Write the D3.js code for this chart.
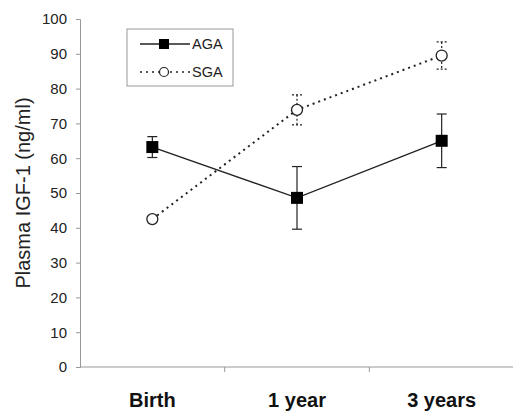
<!DOCTYPE html>
<html>
<head>
<meta charset="utf-8">
<script src="https://cdn.jsdelivr.net/npm/d3@7"></script>
<style>
  body { margin: 0; background: #fff; }
  text { font-family: "Liberation Sans", Arial, sans-serif; }
</style>
</head>
<body>
<div class="container"></div>
<script>
const width = 513;
const height = 411;

const categories = ["Birth", "1 year", "3 years"];
const agaMean = [63.2, 48.6, 65.0];
const agaErr = [3.0, 9.0, 7.7];
const sgaMean = [42.5, 73.9, 89.5];
const sgaErr = [0.8, 4.3, 3.9];
const yTicks = [0, 10, 20, 30, 40, 50, 60, 70, 80, 90, 100];

const margin = {left: 80, right: 0, top: 19, bottom: 44};

const svg = d3.select(".container")
    .append("svg")
    .attr("width", width)
    .attr("height", height);

const xScale = d3.scaleBand()
    .domain(categories)
    .range([margin.left, 514]);

const yScale = d3.scaleLinear()
    .domain([0, 100])
    .range([367, margin.top]);

// y axis
const yAxis = svg.append("g")
    .attr("transform", `translate(${margin.left},0)`)
    .call(d3.axisLeft(yScale).tickValues(yTicks).tickSize(4).tickPadding(9));
yAxis.select(".domain").attr("stroke", "#999");
yAxis.selectAll(".tick line").attr("stroke", "#999");
yAxis.selectAll(".tick text")
    .attr("font-size", 15)
    .attr("fill", "#222");

// x axis
const xAxisG = svg.append("g")
    .attr("transform", `translate(0,${yScale(0)})`);
xAxisG.append("line")
    .attr("x1", margin.left).attr("x2", 514)
    .attr("y1", 0).attr("y2", 0)
    .attr("stroke", "#999");
xAxisG.selectAll(".sep")
    .data(categories.slice(1))
    .enter()
    .append("line")
    .attr("x1", d => xScale(d))
    .attr("x2", d => xScale(d))
    .attr("y1", 0).attr("y2", 5)
    .attr("stroke", "#999");
xAxisG.selectAll(".lab")
    .data(categories)
    .enter()
    .append("text")
    .attr("x", d => xScale(d) + xScale.bandwidth() / 2)
    .attr("y", 40)
    .attr("text-anchor", "middle")
    .attr("font-size", 20)
    .attr("font-weight", "bold")
    .attr("fill", "#111")
    .text(d => d);

// y label
svg.append("text")
    .attr("transform", `translate(30,${(yScale(0) + yScale(100)) / 2}) rotate(-90)`)
    .attr("text-anchor", "middle")
    .attr("font-size", 20)
    .attr("fill", "#222")
    .text("Plasma IGF-1 (ng/ml)");

const cx = d => xScale(d) + xScale.bandwidth() / 2;

function drawErr(means, errs, dash) {
    const g = svg.append("g");
    categories.forEach((c, i) => {
        const x = cx(c);
        const top = yScale(means[i] + errs[i]);
        const bot = yScale(means[i] - errs[i]);
        g.append("line").attr("x1", x).attr("x2", x).attr("y1", top).attr("y2", bot)
            .attr("stroke", "#222").attr("stroke-width", 1.2).attr("stroke-dasharray", dash);
        [top, bot].forEach(y => {
            g.append("line").attr("x1", x - 5).attr("x2", x + 5).attr("y1", y).attr("y2", y)
                .attr("stroke", "#222").attr("stroke-width", 1.2).attr("stroke-dasharray", dash);
        });
    });
}

drawErr(agaMean, agaErr, null);
drawErr(sgaMean, sgaErr, "2,2");

const line = d3.line()
    .x((d, i) => cx(categories[i]))
    .y(d => yScale(d));

svg.append("path")
    .datum(sgaMean)
    .attr("d", line)
    .attr("fill", "none")
    .attr("stroke", "#222")
    .attr("stroke-width", 2)
    .attr("stroke-dasharray", "2,4");

svg.append("path")
    .datum(agaMean)
    .attr("d", line)
    .attr("fill", "none")
    .attr("stroke", "#222")
    .attr("stroke-width", 1.4);

svg.selectAll(".aga")
    .data(agaMean)
    .enter()
    .append("rect")
    .attr("x", (d, i) => cx(categories[i]) - 6)
    .attr("y", d => yScale(d) - 6)
    .attr("width", 12)
    .attr("height", 12)
    .attr("fill", "#000");

svg.selectAll(".sga")
    .data(sgaMean)
    .enter()
    .append("circle")
    .attr("cx", (d, i) => cx(categories[i]))
    .attr("cy", d => yScale(d))
    .attr("r", 5.5)
    .attr("fill", "#fff")
    .attr("stroke", "#222")
    .attr("stroke-width", 1.3);

// legend
const lg = svg.append("g");
lg.append("rect")
    .attr("x", 127).attr("y", 29).attr("width", 106).attr("height", 57)
    .attr("fill", "#fff").attr("stroke", "#999");
lg.append("line").attr("x1", 140).attr("x2", 190).attr("y1", 44).attr("y2", 44)
    .attr("stroke", "#222").attr("stroke-width", 1.4);
lg.append("rect").attr("x", 159).attr("y", 39).attr("width", 10).attr("height", 10).attr("fill", "#000");
lg.append("text").attr("x", 192).attr("y", 49).attr("font-size", 14.5).attr("fill", "#222").text("AGA");
lg.append("line").attr("x1", 140).attr("x2", 190).attr("y1", 72).attr("y2", 72)
    .attr("stroke", "#222").attr("stroke-width", 1.6).attr("stroke-dasharray", "2,4");
lg.append("circle").attr("cx", 164).attr("cy", 72).attr("r", 4.5)
    .attr("fill", "#fff").attr("stroke", "#222").attr("stroke-width", 1.2);
lg.append("text").attr("x", 192).attr("y", 77).attr("font-size", 14.5).attr("fill", "#222").text("SGA");
</script>
</body>
</html>
